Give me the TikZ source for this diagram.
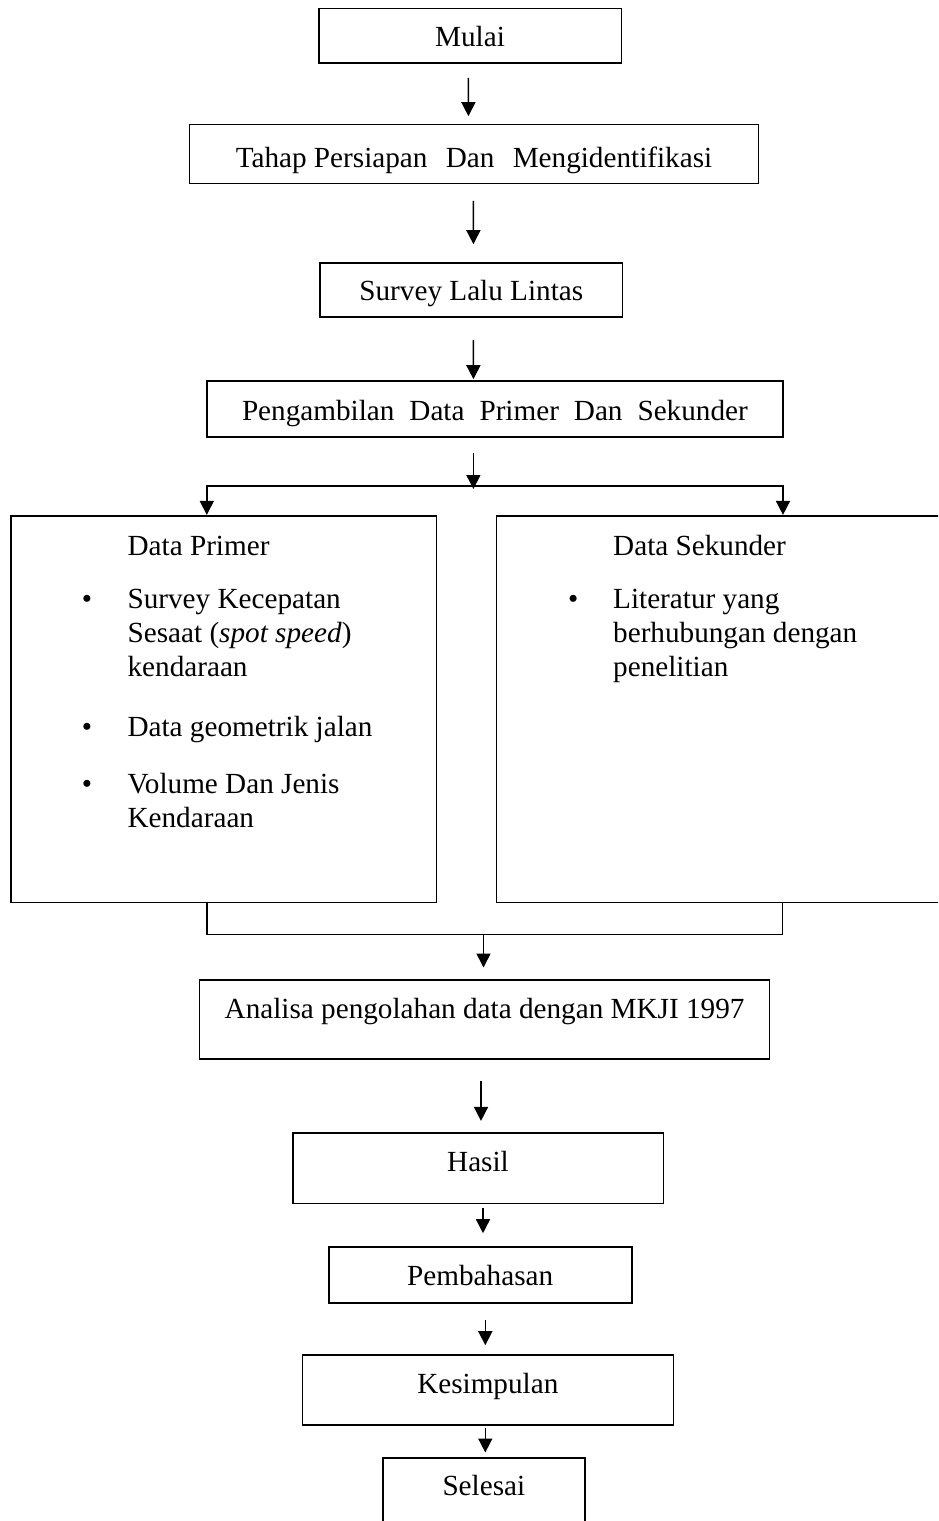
\documentclass[tikz,border=0pt]{standalone}
\usepackage{fontspec}
\setmainfont{Liberation Serif}
\usetikzlibrary{arrows.meta}
\begin{document}
\begin{tikzpicture}[x=1pt,y=-1pt,
  txtfont/.style={font=\fontsize{29.2}{34.3}\selectfont},
  box/.style={draw, line width=1.6pt, inner sep=0pt, text height=32pt, txtfont},
  conn/.style={line width=1.6pt},
  arr/.style={line width=1.6pt, -{Triangle[length=14pt,width=14pt]}}]
\fill[white] (0,0) rectangle (938,1521);
\useasboundingbox (0,0) rectangle (938,1521);
\clip (0,0) rectangle (938,1521);

% boxes
\node[box, minimum width=302.7pt, minimum height=54.4pt, text depth=9.6pt] (mulai) at (470.05,35.5) {Mulai};
\node[box, minimum width=569.2pt, minimum height=59pt, text depth=5.6pt] (tahap) at (474,153.8) {Tahap Persiapan\hspace{11pt} Dan\hspace{11pt} Mengidentifikasi};
\node[box, minimum width=302.6pt, minimum height=54pt, text depth=11.4pt] (survey) at (471.3,289.7) {Survey Lalu Lintas};
\node[box, minimum width=576.2pt, minimum height=55.7pt, text depth=9.7pt] (peng) at (494.9,408.85) {\makebox[505.8pt][s]{Pengambilan Data Primer Dan Sekunder}};
\node[box, minimum width=425.8pt, minimum height=386.6pt] (prim) at (223.7,709) {};
\node[box, minimum width=463.6pt, minimum height=386.6pt] (sek) at (728.2,709) {};
\node[box, minimum width=570pt, minimum height=78.7pt, text depth=34.1pt] (ana) at (484.6,1019.35) {Analisa pengolahan data dengan MKJI 1997};
\node[box, minimum width=370.6pt, minimum height=70.6pt, text depth=26pt] (hasil) at (478,1168) {Hasil};
\node[box, minimum width=303pt, minimum height=56pt, text depth=11.4pt] (pemb) at (480.2,1274.7) {Pembahasan};
\node[box, minimum width=371pt, minimum height=70pt, text depth=25.4pt] (kesim) at (487.8,1390) {Kesimpulan};
\node[box, minimum width=202.3pt, minimum height=87.3pt, text depth=44.7pt] (sel) at (483.85,1501.35) {Selesai};

% texts inside the two data boxes
\node[anchor=base west, inner sep=0pt, txtfont] (primtxt) at (81.7,555) {\begin{tabular}[t]{@{}p{45.7pt}@{}l@{}}
 & Data Primer\\[18.7pt]
\textbullet & Survey Kecepatan\\
 & Sesaat (\textit{spot speed})\\
 & kendaraan\\[25.8pt]
\textbullet & Data geometrik jalan\\[22.3pt]
\textbullet & Volume Dan Jenis\\
 & Kendaraan
\end{tabular}};
\node[anchor=base west, inner sep=0pt, txtfont] (sektxt) at (568,555) {\begin{tabular}[t]{@{}p{45pt}@{}l@{}}
 & Data Sekunder\\[18.7pt]
\textbullet & Literatur yang\\
 & berhubungan dengan\\
 & penelitian
\end{tabular}};

% connectors
\draw[arr, shorten <=14.3pt, shorten >=7.3pt] ([xshift=-1.65pt]mulai.south) -- ([xshift=-5.6pt]tahap.north);
\draw[arr, shorten <=16.7pt, shorten >=17.7pt] ([xshift=-0.6pt]tahap.south) -- ([xshift=2.1pt]survey.north);
\draw[arr, shorten <=22.6pt, shorten >=1pt] ([xshift=2.1pt]survey.south) -- ([xshift=-21.5pt]peng.north);

\coordinate (j) at (473.4,486);
\coordinate (jl) at (206.8,486);
\coordinate (jr) at (783,486);
\draw[arr, shorten <=15pt] (peng.south -| j) -- ([yshift=-3pt]j);
\draw[arr] (j) -| (jl |- prim.north);
\draw[arr] (j) -| (jr |- sek.north);

\coordinate (bl) at (206.7,934.3);
\coordinate (br) at (782.6,934.3);
\coordinate (bm) at (483.5,934.3);
\draw[conn] (bl |- prim.south) |- (br) -- (br |- sek.south);
\draw[arr, shorten >=11.7pt] (bm) -- (bm |- ana.north);

\draw[arr, shorten <=21.3pt, shorten >=11pt] ([xshift=-3.6pt]ana.south) -- ([xshift=3pt]hasil.north);
\draw[arr, shorten <=3.4pt, shorten >=12.7pt] ([xshift=5pt]hasil.south) -- ([xshift=2.8pt]pemb.north);
\draw[arr, shorten <=16.3pt, shorten >=9pt] ([xshift=5.1pt]pemb.south) -- ([xshift=-2.5pt]kesim.north);
\draw[arr, shorten <=2.3pt, shorten >=4.4pt] ([xshift=-2.5pt]kesim.south) -- ([xshift=1.45pt]sel.north);
\end{tikzpicture}
\end{document}
